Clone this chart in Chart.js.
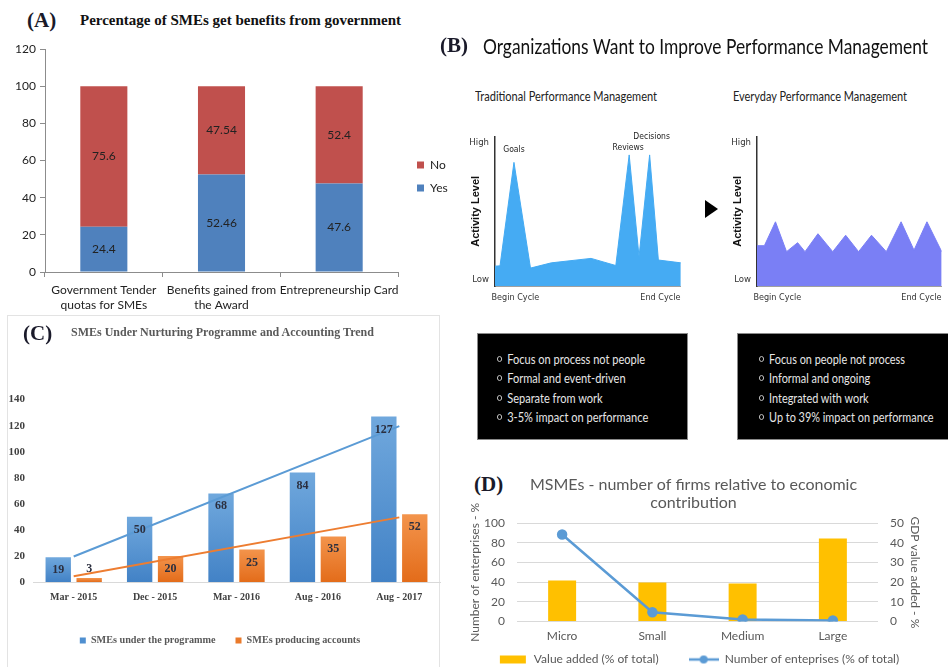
<!DOCTYPE html>
<html>
<head>
<meta charset="utf-8">
<title>SMEs and performance management</title>
<script src="https://cdn.jsdelivr.net/npm/chart.js@4.4.1/dist/chart.umd.min.js"></script>
<style>
  html, body { margin: 0; padding: 0; background: #fff; }
  body { position: relative; width: 948px; height: 667px; overflow: hidden; }
  canvas { position: absolute; }
  .txt { position: absolute; white-space: nowrap; }
  .fit { transform-origin: 0 50%; }
  .tag { font: bold 21px 'Liberation Serif', serif; color: #1a1a2a; line-height: 22px; }
  .serif { font-family: 'Liberation Serif', serif; font-weight: bold; }
  .hum { font-family: Lato, 'Open Sans', sans-serif; }
  .arrow { position: absolute; left: 705px; top: 200px; width: 0; height: 0;
           border-top: 9px solid transparent; border-bottom: 9px solid transparent; border-left: 13px solid #000; }
  .note-box { position: absolute; top: 333px; height: 107px; background: #000; border: 1px solid #8a8a8a; box-sizing: border-box; overflow: hidden; }
  .note-box ul { list-style: none; margin: 0; padding: 16px 0 0 0; transform-origin: 0 0; }
  .note-box li { color: #e6e6e6; font-size: 13px; line-height: 19.4px; white-space: nowrap; }
  .note-box li::before { content: ''; display: inline-block; width: 4px; height: 4px; border: 1px solid #cfcfcf;
                         border-radius: 50%; margin-right: 6px; vertical-align: 2px; }
  .frame { position: absolute; left: 7px; top: 315px; width: 433px; height: 360px;
           border: 1px solid #e3e3e3; box-sizing: border-box; }
</style>
</head>
<body>

<div class="txt tag" style="left:27px;top:9px">(A)</div>
<div class="txt serif" style="left:80px;top:12px;font-size:15px;color:#111">Percentage of SMEs get benefits from government</div>
<canvas id="chartA" width="465" height="280" style="left:0;top:38px"></canvas>

<div class="txt tag" style="left:440px;top:34px">(B)</div>
<div class="txt hum fit" data-w="445" style="left:483px;top:32px;font-size:22px;color:#111">Organizations Want to Improve Performance Management</div>
<div class="txt hum fit" data-w="182" style="left:475px;top:88px;font-size:13.5px;color:#222">Traditional Performance Management</div>
<div class="txt hum fit" data-w="174" style="left:733px;top:88px;font-size:13.5px;color:#222">Everyday Performance Management</div>
<canvas id="chartB1" width="222" height="185" style="left:465px;top:125px"></canvas>
<div class="arrow"></div>
<canvas id="chartB2" width="220" height="185" style="left:728px;top:125px"></canvas>

<div class="note-box hum" style="left:477px;width:211px;padding-left:19px">
  <ul data-w="138">
    <li>Focus on process not people</li>
    <li>Formal and event-driven</li>
    <li>Separate from work</li>
    <li>3-5% impact on performance</li>
  </ul>
</div>
<div class="note-box hum" style="left:737px;width:215px;padding-left:21px">
  <ul data-w="136">
    <li>Focus on people not process</li>
    <li>Informal and ongoing</li>
    <li>Integrated with work</li>
    <li>Up to 39% impact on performance</li>
  </ul>
</div>

<div class="frame"></div>
<div class="txt tag" style="left:23px;top:322px">(C)</div>
<div class="txt serif" style="left:71px;top:325px;font-size:12px;color:#595959">SMEs Under Nurturing Programme and Accounting Trend</div>
<canvas id="chartC" width="445" height="270" style="left:0;top:385px"></canvas>

<div class="txt tag" style="left:474px;top:473px">(D)</div>
<canvas id="chartD" width="473" height="227" style="left:462px;top:468px"></canvas>

<script>
// ---- (A) benefits from government ----
const aCategories = [['Government Tender', 'quotas for SMEs'], ['Benefits gained from', 'the Award'], ['Entrepreneurship Card']];
const aYes = [24.4, 52.46, 47.6];
const aNo = [75.6, 47.54, 52.4];
const aTicks = [0, 20, 40, 60, 80, 100, 120];

// ---- (B) performance management activity ----
const tradX = [0, 2.7, 10.2, 19.1, 30.3, 51.7, 65, 72.2, 77.5, 83.2, 87.9, 100];
const tradY = [13.3, 13.5, 82.8, 12, 15.5, 18.5, 13.7, 87.8, 19.6, 87.8, 17.4, 15.5];
const tradNotes = { 2: 'Goals', 7: 'Reviews', 9: 'Decisions' };
const dayX = [0, 4, 10, 16, 22, 26, 33, 41, 48, 55, 62, 70, 78, 85, 92, 100];
const dayY = [27, 27, 43, 23, 29, 23, 35, 23, 34, 23, 34, 23, 43, 24, 43, 23];
const levelLabels = ['Low', 'High'];
const cycleLabels = ['Begin Cycle', 'End Cycle'];

// ---- (C) nurturing programme ----
const cCategories = ['Mar - 2015', 'Dec - 2015', 'Mar - 2016', 'Aug - 2016', 'Aug - 2017'];
const cProgramme = [19, 50, 68, 84, 127];
const cAccounts = [3, 20, 25, 35, 52];
const cProgrammeTrend = [19.6, null, null, null, 119.6];   // trend line ends
const cAccountsTrend = [4.4, null, null, null, 49.6];
const cTicks = [0, 20, 40, 60, 80, 100, 120, 140];

// ---- (D) MSMEs ----
const dCategories = ['Micro', 'Small', 'Medium', 'Large'];
const dValueAdded = [20.8, 19.8, 19.3, 42.2];
const dEnterprises = [88.5, 9.4, 2.1, 1.0];
const dLeftTicks = [0, 20, 40, 60, 80, 100];
const dRightTicks = [0, 10, 20, 30, 40, 50];

// squeeze the condensed-looking texts to the widths they have in the picture
document.querySelectorAll('[data-w]').forEach(el => {
  let w;
  if (el.tagName === 'UL') {
    const r = document.createRange();
    r.selectNodeContents(el.querySelector('li'));
    w = r.getBoundingClientRect().width;
  } else {
    w = el.getBoundingClientRect().width;
  }
  el.style.transform = 'scaleX(' + (parseFloat(el.dataset.w) / w) + ')';
});

Chart.defaults.animation = false;
Chart.defaults.responsive = false;
Chart.defaults.plugins.tooltip.enabled = false;

const SANS = "Lato, 'Liberation Sans', sans-serif";
const SERIF = "'Liberation Serif', serif";
const NARROW = "'DejaVu Sans Condensed', 'Liberation Sans Narrow', sans-serif";

// pin the legend box size and nudge where it's drawn
const legendBox = {
  id: 'legendBox',
  afterInit(chart, args, opts) {
    const lg = chart.legend;
    if (!lg) return;
    const fit = lg.fit;
    lg.fit = function () {
      fit.call(this);
      if (opts.width != null) this.width = opts.width;
      if (opts.height != null) this.height = opts.height;
    };
  },
  afterLayout(chart, args, opts) {
    const lg = chart.legend;
    if (!lg) return;
    const dx = opts.dx || 0, dy = opts.dy || 0;
    lg.left += dx; lg.right += dx; lg.top += dy; lg.bottom += dy;
  }
};

// value labels on bars
const barValues = {
  id: 'barValues',
  afterDatasetsDraw(chart, args, opts) {
    const ctx = chart.ctx;
    ctx.save();
    ctx.font = opts.font;
    ctx.fillStyle = opts.color;
    ctx.textAlign = 'center';
    ctx.textBaseline = 'middle';
    chart.data.datasets.forEach((ds, di) => {
      const meta = chart.getDatasetMeta(di);
      if (meta.type !== 'bar') return;
      meta.data.forEach((bar, i) => {
        let y;
        if (opts.place === 'center') y = (bar.y + bar.base) / 2;
        else y = (bar.base - bar.y > opts.minInside) ? bar.y + opts.inset : bar.y - opts.above;
        ctx.fillText(String(ds.data[i]), bar.x, y);
      });
    });
    ctx.restore();
  }
};

// small captions over the peaks
const peakNotes = {
  id: 'peakNotes',
  afterDatasetsDraw(chart, args, opts) {
    if (!opts.notes) return;
    const ctx = chart.ctx;
    const meta = chart.getDatasetMeta(0);
    ctx.save();
    ctx.font = opts.font;
    ctx.fillStyle = '#222';
    ctx.textAlign = 'center';
    ctx.textBaseline = 'middle';
    Object.keys(opts.notes).forEach(i => {
      const p = meta.data[i];
      const off = opts.offsets[i] || [0, 10];
      ctx.fillText(opts.notes[i], p.x + off[0], p.y - off[1]);
    });
    ctx.restore();
  }
};

// vertical shading for each bar (lighter at the top)
function barShade(light, dark) {
  return c => {
    const y = c.chart.scales && c.chart.scales.y;
    if (!y || c.raw == null) return dark;
    const top = y.getPixelForValue(c.raw), base = y.getPixelForValue(0);
    if (!isFinite(top) || !isFinite(base) || top === base) return dark;
    const g = c.chart.ctx.createLinearGradient(0, top, 0, base);
    g.addColorStop(0, light);
    g.addColorStop(1, dark);
    return g;
  };
}

// ---------- A ----------
new Chart(document.getElementById('chartA'), {
  type: 'bar',
  data: {
    labels: aCategories,
    datasets: [
      { label: 'Yes', data: aYes, backgroundColor: '#4f81bd', barPercentage: 0.4, categoryPercentage: 1 },
      { label: 'No', data: aNo, backgroundColor: '#c0504d', barPercentage: 0.4, categoryPercentage: 1 }
    ]
  },
  options: {
    layout: { padding: { top: 9 } },
    scales: {
      x: {
        stacked: true,
        grid: { drawOnChartArea: false, tickLength: 5, color: '#8c8c8c' },
        border: { color: '#8c8c8c' },
        ticks: { color: '#222', font: { family: SANS, size: 12, lineHeight: 1.3 }, padding: 5, maxRotation: 0, autoSkip: false },
        afterFit: s => { s.height = 46; }
      },
      y: {
        stacked: true, min: 0, max: 120,
        afterBuildTicks: s => { s.ticks = aTicks.map(v => ({ value: v })); },
        grid: { drawOnChartArea: false, tickLength: 5, color: '#8c8c8c' },
        border: { color: '#8c8c8c' },
        ticks: { color: '#222', font: { family: SANS, size: 12 }, padding: 4 },
        afterFit: s => { s.width = 45; }
      }
    },
    plugins: {
      legend: {
        position: 'right', reverse: true,
        labels: { boxWidth: 7, boxHeight: 7, padding: 11, color: '#222', font: { family: SANS, size: 12 } }
      },
      legendBox: { width: 67, dx: 8, dy: -6 },
      barValues: { place: 'center', font: '12px ' + SANS, color: '#222' }
    }
  },
  plugins: [legendBox, barValues]
});

// ---------- B ----------
function activityChart(id, xs, ys, color, axisWidth, titlePad, notes, offsets) {
  return new Chart(document.getElementById(id), {
    type: 'line',
    data: {
      datasets: [{
        data: xs.map((x, i) => ({ x: x, y: ys[i] })),
        fill: 'origin', backgroundColor: color, borderColor: color, borderWidth: 1,
        pointRadius: 0, tension: 0
      }]
    },
    options: {
      layout: { padding: { top: 8, right: 5 } },
      scales: {
        x: {
          type: 'linear', min: 0, max: 100,
          afterBuildTicks: s => { s.ticks = [{ value: 11 }, { value: 89 }]; },
          grid: { drawOnChartArea: false, drawTicks: false },
          border: { color: '#a0a0a0' },
          ticks: { callback: (v, i) => cycleLabels[i], color: '#333', font: { family: NARROW, size: 9 }, padding: 6, maxRotation: 0 },
          afterFit: s => { s.height = 24; }
        },
        y: {
          min: 0, max: 100,
          afterBuildTicks: s => { s.ticks = [{ value: 4 }, { value: 96 }]; },
          grid: { drawOnChartArea: false, drawTicks: false },
          border: { color: '#333', width: 1.5 },
          ticks: { callback: (v, i) => levelLabels[i], color: '#333', font: { family: NARROW, size: 9.5 }, padding: 6 },
          title: { display: true, text: 'Activity Level', color: '#111', font: { family: "'Liberation Sans', sans-serif", size: 11, weight: 'bold' }, padding: { top: titlePad, bottom: 0 } },
          afterFit: s => { s.width = axisWidth; }
        }
      },
      plugins: {
        legend: { display: false },
        peakNotes: { notes: notes, offsets: offsets, font: '8.5px ' + NARROW }
      }
    },
    plugins: [peakNotes]
  });
}
activityChart('chartB1', tradX, tradY, '#45abf3', 30, 4, tradNotes, { 2: [0, 13], 7: [-1, 7], 9: [2, 18] });
activityChart('chartB2', dayX, dayY, '#7a7ff5', 29, 3, null, {});

// ---------- C ----------
new Chart(document.getElementById('chartC'), {
  type: 'bar',
  data: {
    labels: cCategories,
    datasets: [
      { type: 'line', label: 'trend-programme', data: cProgrammeTrend, borderColor: '#5b9bd5', borderWidth: 2, pointRadius: 0, spanGaps: true, order: 0 },
      { type: 'line', label: 'trend-accounts', data: cAccountsTrend, borderColor: '#ed7d31', borderWidth: 2, pointRadius: 0, spanGaps: true, order: 0 },
      { label: 'SMEs under the programme', data: cProgramme, backgroundColor: barShade('#70a8dd', '#4282c6'),
        barPercentage: 0.82, categoryPercentage: 0.76, order: 1 },
      { label: 'SMEs producing accounts', data: cAccounts, backgroundColor: barShade('#f3944c', '#e36c1a'),
        barPercentage: 0.82, categoryPercentage: 0.76, order: 1 }
    ]
  },
  options: {
    layout: { padding: { top: 12, right: 5 } },
    scales: {
      x: {
        grid: { display: false, drawTicks: false },
        border: { color: '#d9d9d9' },
        ticks: { color: '#404040', font: { family: SERIF, size: 10, weight: 'bold' }, padding: 9, maxRotation: 0 },
        afterFit: s => { s.height = 33.5; }
      },
      y: {
        min: 0, max: 140,
        afterBuildTicks: s => { s.ticks = cTicks.map(v => ({ value: v })); },
        grid: { display: false, drawTicks: false },
        border: { display: false },
        ticks: { color: '#404040', font: { family: SERIF, size: 11, weight: 'bold' }, padding: 8 },
        afterFit: s => { s.width = 33; }
      }
    },
    plugins: {
      legend: {
        position: 'bottom',
        labels: {
          boxWidth: 6, boxHeight: 6, padding: 20, color: '#595959',
          font: { family: SERIF, size: 10.2, weight: 'bold' },
          filter: item => !item.text.startsWith('trend'),
          generateLabels: chart => {
            const items = Chart.defaults.plugins.legend.labels.generateLabels(chart);
            items.forEach(it => { it.fillStyle = it.datasetIndex === 2 ? '#4f8fd0' : '#ea7a2b'; });
            return items;
          }
        }
      },
      legendBox: { height: 39.5 },
      barValues: { place: 'end', minInside: 20, inset: 13, above: 9, font: 'bold 12px ' + SERIF, color: '#2b2f3f' }
    }
  },
  plugins: [legendBox, barValues]
});

// ---------- D ----------
function legendIcon(draw) {
  const c = document.createElement('canvas');
  c.width = 30; c.height = 10;
  draw(c.getContext('2d'));
  return c;
}
const barIcon = legendIcon(g => { g.fillStyle = '#ffc000'; g.fillRect(2, 1, 26, 8); });
const lineIcon = legendIcon(g => {
  g.strokeStyle = '#5b9bd5'; g.lineWidth = 2.5;
  g.beginPath(); g.moveTo(0, 5); g.lineTo(30, 5); g.stroke();
  g.fillStyle = '#5b9bd5'; g.beginPath(); g.arc(15, 5, 4, 0, Math.PI * 2); g.fill();
});

// the canvas runs past the bottom of the page; the legend is pulled back up
new Chart(document.getElementById('chartD'), {
  type: 'bar',
  data: {
    labels: dCategories,
    datasets: [
      { type: 'line', label: 'Number of enteprises (% of total)', data: dEnterprises, yAxisID: 'y',
        borderColor: '#5b9bd5', borderWidth: 2.5, pointRadius: 4, pointBackgroundColor: '#5b9bd5', pointBorderColor: '#5b9bd5', tension: 0, order: 0 },
      { label: 'Value added (% of total)', data: dValueAdded, yAxisID: 'y1',
        backgroundColor: '#ffc000', barPercentage: 0.31, categoryPercentage: 1, order: 1 }
    ]
  },
  options: {
    layout: { padding: { right: 10 } },
    scales: {
      x: {
        grid: { display: false, drawTicks: false },
        border: { display: false },
        ticks: { color: '#595959', font: { family: SANS, size: 12 }, padding: 7, maxRotation: 0 },
        afterFit: s => { s.height = 30; }
      },
      y: {
        position: 'left', min: 0, max: 100,
        afterBuildTicks: s => { s.ticks = dLeftTicks.map(v => ({ value: v })); },
        grid: { color: '#d9d9d9', drawTicks: false },
        border: { display: false },
        ticks: { color: '#595959', font: { family: SANS, size: 12 }, padding: 12 },
        title: { display: true, text: 'Number of enterprises - %', color: '#595959', font: { family: SANS, size: 12 }, padding: { top: 6, bottom: 0 } },
        afterFit: s => { s.width = 55; }
      },
      y1: {
        position: 'right', min: 0, max: 50,
        afterBuildTicks: s => { s.ticks = dRightTicks.map(v => ({ value: v })); },
        grid: { drawOnChartArea: false, drawTicks: false },
        border: { display: false },
        ticks: { color: '#595959', font: { family: SANS, size: 12 }, padding: 12 },
        title: { display: true, text: 'GDP value added - %', color: '#595959', font: { family: SANS, size: 12 }, padding: { top: 3, bottom: 0 } },
        afterFit: s => { s.width = 47; }
      }
    },
    plugins: {
      title: {
        display: true,
        text: ['MSMEs - number of firms relative to economic', 'contribution'],
        color: '#595959', font: { family: SANS, size: 16, weight: 'normal', lineHeight: 1.1 },
        padding: { top: 8, bottom: 12 }
      },
      legend: {
        position: 'bottom',
        labels: {
          usePointStyle: true, pointStyleWidth: 30, padding: 30, color: '#595959',
          font: { family: SANS, size: 12 },
          sort: (a, b) => b.datasetIndex - a.datasetIndex,
          generateLabels: chart => {
            const items = Chart.defaults.plugins.legend.labels.generateLabels(chart);
            items.forEach(it => { it.pointStyle = it.datasetIndex === 1 ? barIcon : lineIcon; });
            return items;
          }
        }
      },
      legendBox: { height: 43.5, dx: 5, dy: -28 }
    }
  },
  plugins: [legendBox]
});
</script>
</body>
</html>
